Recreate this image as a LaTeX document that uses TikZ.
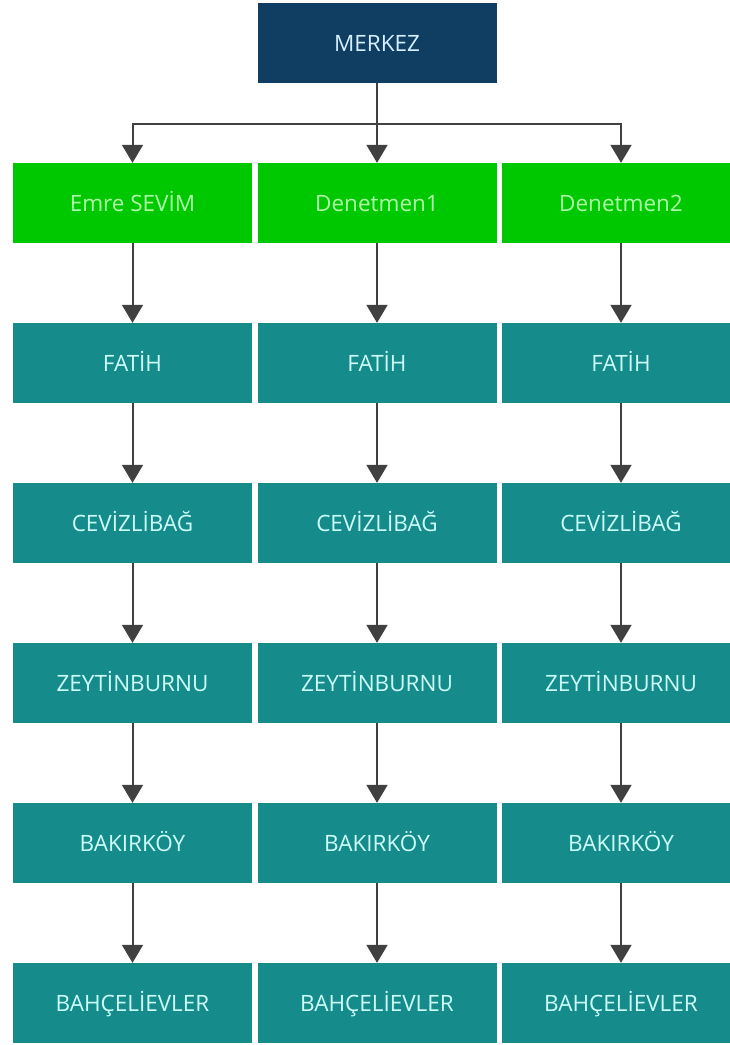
\documentclass[tikz,border=0pt]{standalone}
\usepackage{fontspec}
\setmainfont{Open Sans}
\usetikzlibrary{arrows.meta}
\definecolor{navyblue}{RGB}{16,62,98}
\definecolor{leafgreen}{RGB}{0,200,0}
\definecolor{tealbox}{RGB}{22,139,139}
\definecolor{linegray}{RGB}{64,64,64}

\tikzset{
    box/.style={minimum width=239pt, minimum height=80pt, inner sep=0pt,
        text height=16pt, text depth=0pt,
        font=\fontsize{22.5}{27}\selectfont},
    topbox/.style={box, fill=navyblue, text={rgb,255:red,215;green,238;blue,252}},
    greenbox/.style={box, fill=leafgreen, text={rgb,255:red,175;green,255;blue,170}},
    tealnode/.style={box, fill=tealbox, text={rgb,255:red,205;green,255;blue,250}},
    link/.style={draw=linegray, line width=2pt,
        -{Triangle[width=21pt,length=18pt]}}
}

\begin{document}
\begin{tikzpicture}[x=1pt,y=-1pt]
    \useasboundingbox (0,0) rectangle (730,1045);

    % Top
    \node[topbox] (merkez) at (377,43) {MERKEZ};

    % Inspectors
    \node[greenbox] (d1) at (132.5,203) {Emre SEVİM};
    \node[greenbox] (d2) at (377,203) {Denetmen1};
    \node[greenbox] (d3) at (621,203) {Denetmen2};

    % Districts
    \foreach \c/\x in {1/132.5, 2/377, 3/621} {
        \foreach \r/\name in {1/FATİH, 2/CEVİZLİBAĞ, 3/ZEYTİNBURNU, 4/BAKIRKÖY, 5/BAHÇELİEVLER} {
            \node[tealnode] (b\c-\r) at (\x,203+160*\r) {\name};
        }
    }

    % Arrows from top
    \draw[link] (merkez.south) -- ++(0,41) -| (d1.north);
    \draw[link] (merkez.south) -- (d2.north);
    \draw[link] (merkez.south) -- ++(0,41) -| (d3.north);

    % Arrows down the columns
    \foreach \c in {1,2,3} {
        \draw[link] (d\c.south) -- (b\c-1.north);
        \foreach \r [evaluate=\r as \n using int(\r+1)] in {1,...,4} {
            \draw[link] (b\c-\r.south) -- (b\c-\n.north);
        }
    }
\end{tikzpicture}
\end{document}
